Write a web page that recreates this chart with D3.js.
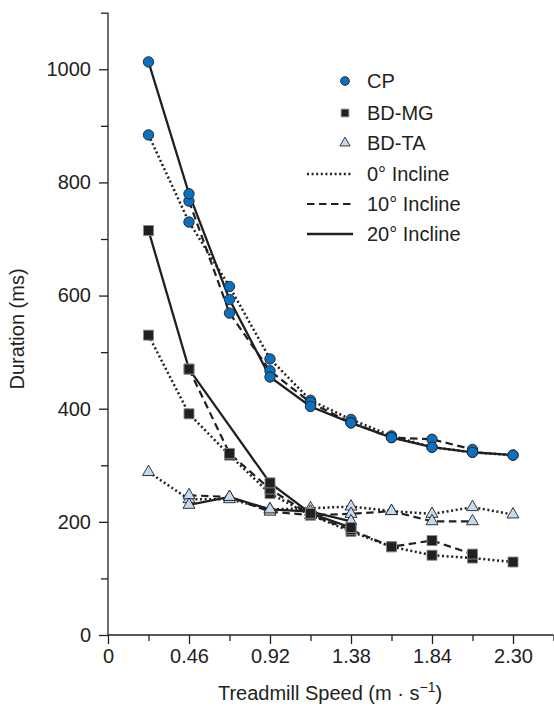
<!DOCTYPE html>
<html>
<head>
<meta charset="utf-8">
<script src="https://cdn.jsdelivr.net/npm/d3@7"></script>
<style>
  html, body { margin: 0; padding: 0; background: #fff; }
  svg { display: block; font-family: "Liberation Sans", Arial, Helvetica, sans-serif; }
</style>
</head>
<body>
<svg width="554" height="710"></svg>
<script>
// speeds (m/s) shared by every series
const speeds = [0.23, 0.46, 0.69, 0.92, 1.15, 1.38, 1.61, 1.84, 2.07, 2.30];

// durations (ms), null = no point at that speed
const cp0   = [884, 730, 616, 488, 415, 381, 352, 332, 323, 318];
const cp10  = [null, 767, 569, 467, 411, 375, 349, 346, 328, null];
const cp20  = [1013, 780, 593, 456, 404, 375, 349, 332, 323, 318];

const bdmg0  = [530, 391, 318, 250, 212, 183, 156, 141, 136, 129];
const bdmg10 = [null, 470, 321, 258, 212, 186, 156, 167, 143, null];
const bdmg20 = [715, 470, null, 269, 215, 190, null, null, null, null];

const bdta0  = [288, 240, 240, 222, 224, 227, 219, 214, 226, 213];
const bdta10 = [null, 247, 244, 218, 212, 214, 219, 201, 201, null];
const bdta20 = [null, 230, 244, 222, 218, 201, null, null, null, null];

const xMajor = [0, 0.46, 0.92, 1.38, 1.84, 2.30];
const xMinor = [0.23, 0.69, 1.15, 1.61, 2.07, 2.53];
const yMajor = [0, 200, 400, 600, 800, 1000];
const yMinor = [100, 300, 500, 700, 900, 1100];

const ink = "#231f20";
const svg = d3.select("svg");

const x = d3.scaleLinear().domain([0, 2.53]).range([108, 553.5]);
const y = d3.scaleLinear().domain([0, 1100]).range([635, 12.7]);

// axes
const fmtX = d => d === 0 ? "0" : d3.format(".2f")(d);
const gx = svg.append("g").attr("transform", `translate(0,${y(0)})`);
gx.call(d3.axisBottom(x).tickValues(xMajor).tickFormat(fmtX).tickSize(9).tickPadding(5));
gx.append("g").call(d3.axisBottom(x).tickValues(xMinor).tickFormat("").tickSize(6))
  .select(".domain").remove();
gx.select(".domain").attr("d", `M${x(0)},0H${x(2.53)}`);

const gy = svg.append("g").attr("transform", `translate(${x(0)},0)`);
gy.call(d3.axisLeft(y).tickValues(yMajor).tickFormat(d3.format("d")).tickSize(9).tickPadding(8));
gy.append("g").call(d3.axisLeft(y).tickValues(yMinor).tickFormat("").tickSize(7))
  .select(".domain").remove();
gy.select(".domain").attr("d", `M0,${y(0)}V${y(1100)}`);

svg.selectAll(".tick line, .domain").attr("stroke", ink).attr("stroke-width", 1.3);
svg.selectAll(".tick text").attr("fill", ink).attr("font-size", 20)
  .attr("font-family", "Liberation Sans, Arial, sans-serif");

// axis titles
svg.append("text")
  .attr("transform", "translate(24,329) rotate(-90)")
  .attr("text-anchor", "middle").attr("font-size", 20).attr("fill", ink)
  .text("Duration (ms)");

const xt = svg.append("text")
  .attr("x", 330).attr("y", 700)
  .attr("text-anchor", "middle").attr("font-size", 20).attr("fill", ink);
xt.append("tspan").text("Treadmill Speed (m \u00b7 s");
xt.append("tspan").attr("dy", -8).attr("font-size", 14).text("\u22121");
xt.append("tspan").attr("dy", 8).text(")");

// lines
const styles = {
  0:  { dash: "2,2.6", width: 2.5 },
  10: { dash: "7.5,4.5", width: 2.2 },
  20: { dash: null, width: 2.3 }
};
const series = [
  { m: "cp", inc: 0, v: cp0 }, { m: "cp", inc: 10, v: cp10 }, { m: "cp", inc: 20, v: cp20 },
  { m: "mg", inc: 0, v: bdmg0 }, { m: "mg", inc: 10, v: bdmg10 }, { m: "mg", inc: 20, v: bdmg20 },
  { m: "ta", inc: 0, v: bdta0 }, { m: "ta", inc: 10, v: bdta10 }, { m: "ta", inc: 20, v: bdta20 }
];
const pts = s => speeds.map((sp, i) => ({ sp, d: s.v[i] })).filter(p => p.d != null);

const line = d3.line().x(p => x(p.sp)).y(p => y(p.d));

svg.append("g").selectAll("path").data(series).join("path")
  .attr("d", s => line(pts(s)))
  .attr("fill", "none")
  .attr("stroke", ink)
  .attr("stroke-width", s => styles[s.inc].width)
  .attr("stroke-dasharray", s => styles[s.inc].dash);

// markers
const marker = {
  cp: { sym: d3.symbolCircle, size: 85, fill: "#0a70c0", stroke: ink },
  mg: { sym: d3.symbolSquare, size: 100, fill: ink, stroke: "#888" },
  ta: { sym: d3.symbolTriangle, size: 62, fill: "#c4daf0", stroke: ink }
};
const order = [...series.filter(s => s.m === "ta"), ...series.filter(s => s.m === "mg"), ...series.filter(s => s.m === "cp")];
order.forEach(s => {
  const mk = marker[s.m];
  svg.append("g").selectAll("path").data(pts(s)).join("path")
    .attr("transform", p => `translate(${x(p.sp)},${y(p.d)})`)
    .attr("d", d3.symbol(mk.sym, mk.size))
    .attr("fill", mk.fill)
    .attr("stroke", mk.stroke)
    .attr("stroke-width", 0.9);
});

// legend
const lg = svg.append("g");
const lgMarkers = [
  { k: "cp", label: "CP", yy: 81 },
  { k: "mg", label: "BD-MG", yy: 113 },
  { k: "ta", label: "BD-TA", yy: 143 }
];
lgMarkers.forEach(d => {
  const mk = marker[d.k];
  lg.append("path")
    .attr("transform", `translate(345,${d.yy})`)
    .attr("d", d3.symbol(mk.sym, d.k === "ta" ? 45 : 60))
    .attr("fill", mk.fill).attr("stroke", mk.stroke).attr("stroke-width", 0.9);
  lg.append("text").attr("x", 367).attr("y", d.yy + 7)
    .attr("font-size", 20).attr("fill", ink).text(d.label);
});
const lgLines = [
  { inc: 0, label: "0\u00b0 Incline", yy: 174 },
  { inc: 10, label: "10\u00b0 Incline", yy: 204 },
  { inc: 20, label: "20\u00b0 Incline", yy: 234 }
];
lgLines.forEach(d => {
  lg.append("line").attr("x1", 307).attr("x2", 353).attr("y1", d.yy).attr("y2", d.yy)
    .attr("stroke", ink).attr("stroke-width", styles[d.inc].width)
    .attr("stroke-dasharray", styles[d.inc].dash);
  lg.append("text").attr("x", 367).attr("y", d.yy + 7)
    .attr("font-size", 20).attr("fill", ink).text(d.label);
});
</script>
</body>
</html>
